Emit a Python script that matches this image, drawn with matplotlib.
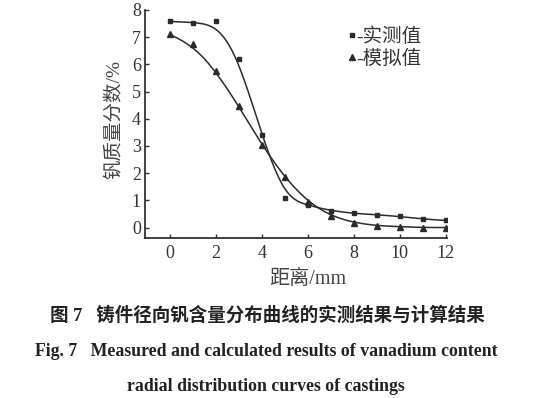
import numpy as np
import matplotlib
matplotlib.use("Agg")
import matplotlib.pyplot as plt
from matplotlib.lines import Line2D

plt.rcParams['font.family'] = ['Liberation Serif', 'Noto Sans CJK SC']

# distance from surface, mm
distance = [0, 1, 2, 3, 4, 5, 6, 7, 8, 9, 10, 11, 12]
# measured vanadium mass fraction, %
measured = [7.58, 7.53, 7.58, 6.20, 3.40, 1.10, 0.82, 0.62, 0.52, 0.47, 0.41, 0.31, 0.26]
# simulated vanadium mass fraction, %
simulated = [7.10, 6.73, 5.77, 4.46, 3.05, 1.84, 0.95, 0.43, 0.18, 0.07, 0.03, 0.0, 0.0]

xticks = [0, 2, 4, 6, 8, 10, 12]
yticks = [0, 1, 2, 3, 4, 5, 6, 7, 8]


def bspline(px, py, k=3, num=400):
    # clamped cubic B-spline using the data points as control points
    px = np.asarray(px, float)
    py = np.asarray(py, float)
    n = len(px)
    t = np.concatenate([np.zeros(k), np.linspace(0, 1, n - k + 1), np.ones(k)])
    u = np.linspace(0, 1, num)
    u[-1] -= 1e-9
    B = np.array([((t[i] <= u) & (u < t[i + 1])).astype(float)
                  for i in range(len(t) - 1)])
    for d in range(1, k + 1):
        Bn = np.zeros((len(t) - 1 - d, num))
        for i in range(len(t) - 1 - d):
            den1 = t[i + d] - t[i]
            den2 = t[i + d + 1] - t[i + 1]
            if den1 > 0:
                Bn[i] += (u - t[i]) / den1 * B[i]
            if den2 > 0:
                Bn[i] += (t[i + d + 1] - u) / den2 * B[i + 1]
        B = Bn
    return B.T @ px, B.T @ py


ink = '#2b2b2b'

fig = plt.figure(figsize=(5.6, 3.98), dpi=100)
ax = fig.add_axes([0.259, 0.403, 0.539, 0.572])

ax.plot(*bspline(distance, measured), color=ink, lw=1.1)
ax.plot(*bspline(distance, simulated), color=ink, lw=1.1)
ax.plot(distance, measured, 's', color=ink, ms=3.5)
ax.plot(distance, simulated, '^', color=ink, ms=4)

ax.set_xlim(-1.07, 12.05)
ax.set_ylim(-0.37, 8.0)
ax.set_xticks(xticks)
ax.set_yticks(yticks)
for s in ['top', 'right']:
    ax.spines[s].set_visible(False)
for s in ['left', 'bottom']:
    ax.spines[s].set_linewidth(1.3)
    ax.spines[s].set_color('#333333')
ax.tick_params(direction='in', length=3, width=1, colors='#333333',
               labelsize=13, labelcolor='#333333', pad=5)
ax.tick_params(axis='y', pad=3)

ax.set_xlabel('距离/mm', fontsize=14.5, color='#444444')
ax.xaxis.set_label_coords(0.539, -0.14)
ax.set_ylabel('钒质量分数/%', fontsize=14, color='#444444')
ax.yaxis.set_label_coords(-0.07, 0.52)

handles = [Line2D([], [], marker='s', ls='none', color=ink, ms=3.5),
           Line2D([], [], marker='^', ls='none', color=ink, ms=4)]
ax.legend(handles, ['-实测值', '-模拟值'], loc='upper left',
          bbox_to_anchor=(0.64, 0.965), frameon=False, fontsize=14,
          handlelength=0.4, handletextpad=0.05, labelspacing=0.2,
          borderpad=0, labelcolor='#333333')

fig.text(0.477, 0.207, '图 7   铸件径向钒含量分布曲线的实测结果与计算结果',
         ha='center', va='center', fontsize=13.3, fontweight='bold',
         color='#222222')
fig.text(0.475, 0.116, 'Fig. 7   Measured and calculated results of vanadium content',
         ha='center', va='center', fontsize=12.8, fontweight='bold',
         color='#222222')
fig.text(0.475, 0.028, 'radial distribution curves of castings',
         ha='center', va='center', fontsize=12.8, fontweight='bold',
         color='#222222')

fig.savefig('out.png', dpi=100)
